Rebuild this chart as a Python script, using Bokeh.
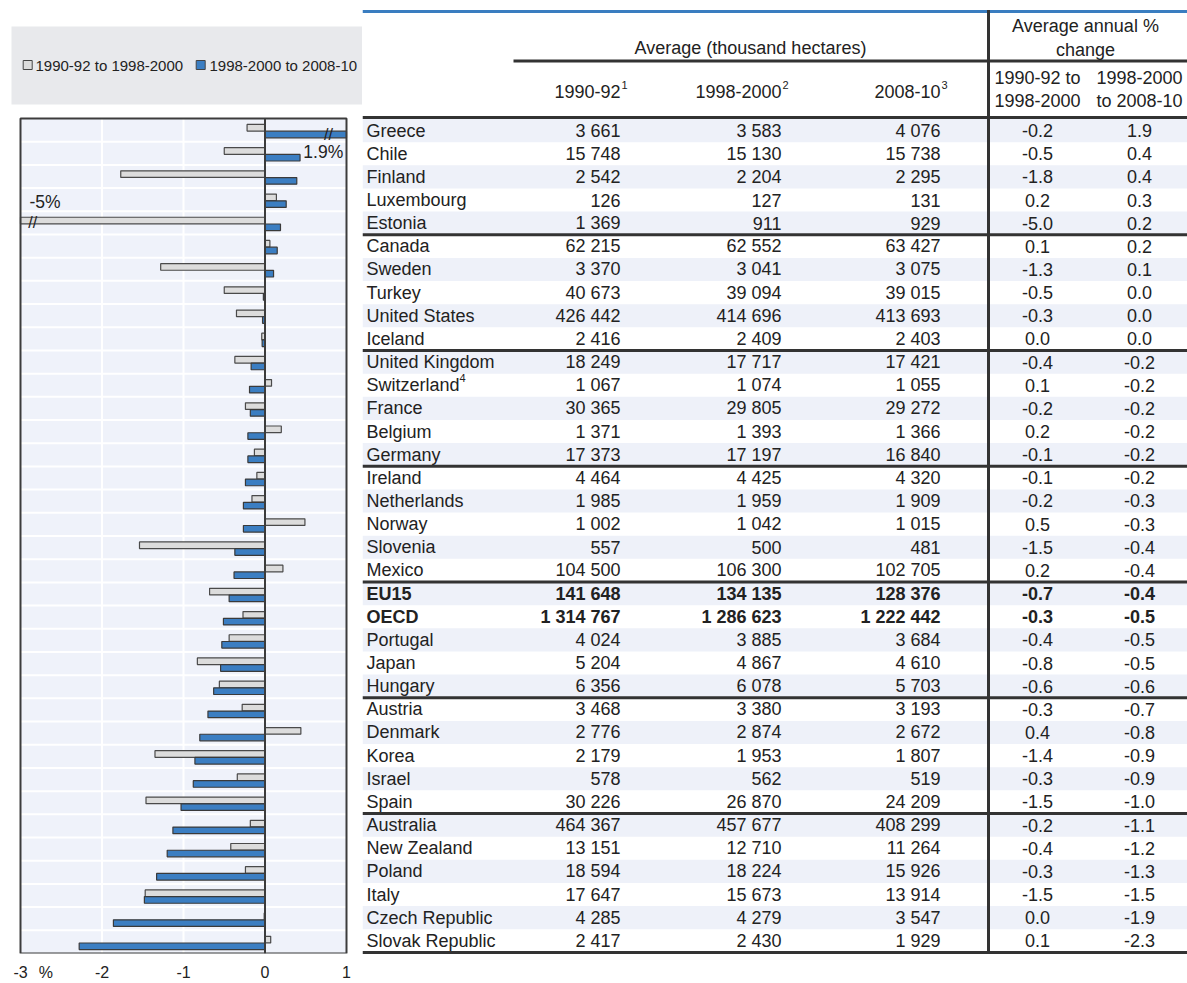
from bokeh.plotting import figure
from bokeh.layouts import row, column
from bokeh.models import Range1d, FixedTicker, ColumnDataSource
from bokeh.core.properties import value
from bokeh.embed import file_html
from bokeh.resources import INLINE

# ---------------- data ----------------
countries = ["Greece", "Chile", "Finland", "Luxembourg", "Estonia",
             "Canada", "Sweden", "Turkey", "United States", "Iceland",
             "United Kingdom", "Switzerland", "France", "Belgium", "Germany",
             "Ireland", "Netherlands", "Norway", "Slovenia", "Mexico",
             "EU15", "OECD", "Portugal", "Japan", "Hungary",
             "Austria", "Denmark", "Korea", "Israel", "Spain",
             "Australia", "New Zealand", "Poland", "Italy", "Czech Republic", "Slovak Republic"]
bold_rows = ["EU15", "OECD"]
note_rows = {"Switzerland": "4"}

avg_1990_92 = [3661, 15748, 2542, 126, 1369, 62215, 3370, 40673, 426442, 2416,
               18249, 1067, 30365, 1371, 17373, 4464, 1985, 1002, 557, 104500,
               141648, 1314767, 4024, 5204, 6356, 3468, 2776, 2179, 578, 30226,
               464367, 13151, 18594, 17647, 4285, 2417]
avg_1998_2000 = [3583, 15130, 2204, 127, 911, 62552, 3041, 39094, 414696, 2409,
                 17717, 1074, 29805, 1393, 17197, 4425, 1959, 1042, 500, 106300,
                 134135, 1286623, 3885, 4867, 6078, 3380, 2874, 1953, 562, 26870,
                 457677, 12710, 18224, 15673, 4279, 2430]
avg_2008_10 = [4076, 15738, 2295, 131, 929, 63427, 3075, 39015, 413693, 2403,
               17421, 1055, 29272, 1366, 16840, 4320, 1909, 1015, 481, 102705,
               128376, 1222442, 3684, 4610, 5703, 3193, 2672, 1807, 519, 24209,
               408299, 11264, 15926, 13914, 3547, 1929]
chg_p1 = [-0.2, -0.5, -1.8, 0.2, -5.0, 0.1, -1.3, -0.5, -0.3, 0.0,
          -0.4, 0.1, -0.2, 0.2, -0.1, -0.1, -0.2, 0.5, -1.5, 0.2,
          -0.7, -0.3, -0.4, -0.8, -0.6, -0.3, 0.4, -1.4, -0.3, -1.5,
          -0.2, -0.4, -0.3, -1.5, 0.0, 0.1]
chg_p2 = [1.9, 0.4, 0.4, 0.3, 0.2, 0.2, 0.1, 0.0, 0.0, 0.0,
          -0.2, -0.2, -0.2, -0.2, -0.2, -0.2, -0.3, -0.3, -0.4, -0.4,
          -0.4, -0.5, -0.5, -0.5, -0.6, -0.7, -0.8, -0.9, -0.9, -1.0,
          -1.1, -1.2, -1.3, -1.5, -1.9, -2.3]
# bar lengths (unrounded)
bar_p1 = [-0.22, -0.5, -1.77, 0.14, -5.0, 0.06, -1.28, -0.5, -0.35, -0.04,
          -0.37, 0.08, -0.24, 0.2, -0.13, -0.10, -0.16, 0.49, -1.54, 0.22,
          -0.68, -0.27, -0.44, -0.83, -0.56, -0.28, 0.44, -1.35, -0.34, -1.46,
          -0.18, -0.42, -0.24, -1.47, -0.01, 0.07]
bar_p2 = [1.9, 0.43, 0.39, 0.26, 0.19, 0.15, 0.105, -0.02, -0.03, -0.035,
          -0.17, -0.19, -0.18, -0.21, -0.21, -0.24, -0.265, -0.265, -0.37, -0.38,
          -0.44, -0.51, -0.53, -0.545, -0.63, -0.70, -0.80, -0.86, -0.88, -1.03,
          -1.13, -1.20, -1.33, -1.48, -1.86, -2.28]
series_names = ["1990-92 to 1998-2000", "1998-2000 to 2008-10"]
x_ticks = [-3, -2, -1, 0, 1]
axis_min, axis_max = -3, 1
unit_label = "%"
group_breaks = [5, 10, 15, 20, 25, 30, 36]
col_headers = [("1990-92", "1"), ("1998-2000", "2"), ("2008-10", "3")]
pct_headers = [("1990-92 to", "1998-2000"), ("1998-2000", "to 2008-10")]

FONT = value("Liberation Sans")
TXT = "#222222"
DARK = "#333333"
GREY = "#dcdcdc"
BLUE = "#3b7ec2"
PANEL = "#eff2fa"
n = len(countries)
idx = list(range(n))

# ---------------- legend strip (page pixel coordinates) ----------------
leg = figure(width=362, height=110, x_range=Range1d(0, 362), y_range=Range1d(110, 0),
             toolbar_location=None, output_backend="svg", min_border=0,
             x_axis_location=None, y_axis_location=None)
leg.grid.visible = False
leg.outline_line_color = None
leg.quad(left=[11], right=[362], top=[26], bottom=[104], fill_color="#e8e9ec", line_color=None)
leg.quad(left=[22.7, 195.7], right=[31.7, 204.7], top=[60, 60], bottom=[69, 69],
         fill_color=[GREY, BLUE], line_color="#444444", line_width=1)
leg.text(x=[35, 209], y=[64.5, 64.5], text=series_names, text_font=FONT,
         text_font_size="15px", text_color=TXT, text_baseline="middle", text_align="left")

# ---------------- bar chart ----------------
PXU = 81.5            # pixels per % unit
RHC = (953 - 118) / n  # pixels per row
p = figure(width=362, height=873,
           x_range=Range1d(axis_min - 20 / PXU, axis_max + 16 / PXU),
           y_range=Range1d(n, -8 / RHC),
           toolbar_location=None, output_backend="svg",
           min_border_left=0, min_border_right=0, min_border_top=0, min_border_bottom=30,
           y_axis_location=None)
p.background_fill_color = "white"
p.outline_line_color = None
p.grid.visible = False

# panel
p.quad(left=[axis_min], right=[axis_max], top=[0], bottom=[n], fill_color=PANEL, line_color=None)
p.segment(x0=[t for t in x_ticks if axis_min < t < 0], x1=[t for t in x_ticks if axis_min < t < 0],
          y0=0, y1=n, line_color="white", line_width=2)
p.segment(x0=axis_min, x1=axis_max, y0=list(range(1, n)), y1=list(range(1, n)),
          line_color="white", line_width=2)

clip = lambda v: max(axis_min, min(axis_max, v))
p.hbar(y=[i + 0.40 for i in idx], left=0, right=[clip(v) for v in bar_p1], height=0.285,
       fill_color=GREY, line_color="#4a4a4a", line_width=1.2)
p.hbar(y=[i + 0.69 for i in idx], left=0, right=[clip(v) for v in bar_p2], height=0.285,
       fill_color=BLUE, line_color="#3a3a3a", line_width=1.2)
p.segment(x0=[0], x1=[0], y0=[0], y1=[n], line_color="#3c3c3c", line_width=2)
p.quad(left=[axis_min], right=[axis_max], top=[0], bottom=[n], fill_color=None,
       line_color="#3c3c3c", line_width=2)

ann = dict(text_font=FONT, text_color=TXT, text_baseline="middle")
p.text(x=[0.96], y=[1.45], text=["%.1f%%" % chg_p2[0]], text_align="right",
       text_font_size="17.5px", **ann)
p.text(x=[-2.89], y=[3.6], text=["%d%%" % bar_p1[4]], text_align="left",
       text_font_size="17.5px", **ann)
p.text(x=[0.78, -2.85], y=[0.69, 4.5], text=["//", "//"], text_align="center",
       text_font_size="16px", **ann)

pct_tick = -2.69
p.xaxis.ticker = FixedTicker(ticks=x_ticks + [pct_tick])
p.xaxis.major_label_overrides = {float(t): ("%d" % t) for t in x_ticks}
p.xaxis.major_label_overrides[pct_tick] = unit_label
p.xaxis.axis_line_color = None
p.xaxis.major_tick_in = 0
p.xaxis.major_tick_out = 0
p.xaxis.minor_tick_line_color = None
p.xaxis.major_label_text_font = "Liberation Sans"
p.xaxis.major_label_text_font_size = "16px"
p.xaxis.major_label_text_color = TXT
p.xaxis.major_label_standoff = 10

# ---------------- table (page pixel coordinates) ----------------
t = figure(width=825, height=983, x_range=Range1d(362, 1187), y_range=Range1d(983, 0),
           toolbar_location=None, output_backend="svg", min_border=0,
           x_axis_location=None, y_axis_location=None)
t.grid.visible = False
t.outline_line_color = None

TOP = 118.5
RH = 23.15
yc = [TOP + (i + 0.5) * RH for i in idx]
shade = [i for i in idx if i % 2 == 0]
t.quad(left=362, right=1187, top=[TOP + i * RH for i in shade],
       bottom=[TOP + (i + 1) * RH for i in shade], fill_color="#eef1f9", line_color=None)

t.segment(x0=[362], x1=[1187], y0=[11], y1=[11], line_color="#3a7dc0", line_width=3)
t.segment(x0=[513], x1=[1187], y0=[60.5], y1=[60.5], line_color=DARK, line_width=3)
t.segment(x0=[362], x1=[1187], y0=[117], y1=[117], line_color=DARK, line_width=3)
gy = [TOP + k * RH for k in group_breaks]
t.segment(x0=[362] * len(gy), x1=[1187] * len(gy), y0=gy, y1=gy, line_color=DARK, line_width=3)
t.segment(x0=[988], x1=[988], y0=[9.5], y1=[gy[-1]], line_color=DARK, line_width=3)

FS = "18px"
tf = dict(text_font=FONT, text_font_size=FS, text_color=TXT, text_baseline="middle")
t.text(x=[750], y=[47], text=["Average (thousand hectares)"], text_align="center", **tf)
t.text(x=[1085, 1085], y=[25, 49], text=["Average annual %", "change"], text_align="center", **tf)
col_right = [620, 781, 940]
for (h, s), xr in zip(col_headers, col_right):
    t.text(x=[xr], y=[91], text=[h], text_align="right", **tf)
    t.text(x=[xr + 1], y=[84], text=[s], text_align="left", text_font=FONT,
           text_font_size="11px", text_color=TXT, text_baseline="middle")
pct_center = [1037, 1139]
for (a, b), xc in zip(pct_headers, pct_center):
    t.text(x=[xc, xc], y=[77, 100], text=[a, b], text_align="center", **tf)


def fmt_int(v):
    return "{:,}".format(v).replace(",", " ")


for style in ["normal", "bold"]:
    rows = [i for i in idx if (countries[i] in bold_rows) == (style == "bold")]
    src = ColumnDataSource(dict(
        y=[yc[i] for i in rows],
        name=[countries[i] for i in rows],
        a=[fmt_int(avg_1990_92[i]) for i in rows],
        b=[fmt_int(avg_1998_2000[i]) for i in rows],
        c=[fmt_int(avg_2008_10[i]) for i in rows],
        d=["%.1f" % chg_p1[i] for i in rows],
        e=["%.1f" % chg_p2[i] for i in rows],
    ))
    kw = dict(source=src, text_font_style=style, **tf)
    t.text(x=366, y="y", text="name", text_align="left", **kw)
    t.text(x=col_right[0], y="y", text="a", text_align="right", **kw)
    t.text(x=col_right[1], y="y", text="b", text_align="right", **kw)
    t.text(x=col_right[2], y="y", text="c", text_align="right", **kw)
    t.text(x=pct_center[0], y="y", text="d", text_align="center", **kw)
    t.text(x=pct_center[1], y="y", text="e", text_align="center", **kw)

for name, note in note_rows.items():
    i = countries.index(name)
    t.text(x=[459], y=[yc[i] - 7], text=[note], text_align="left", text_font=FONT,
           text_font_size="11px", text_color=TXT, text_baseline="middle")

layout = row(column(leg, p), t)
open("out.html", "w").write(file_html(layout, INLINE))
